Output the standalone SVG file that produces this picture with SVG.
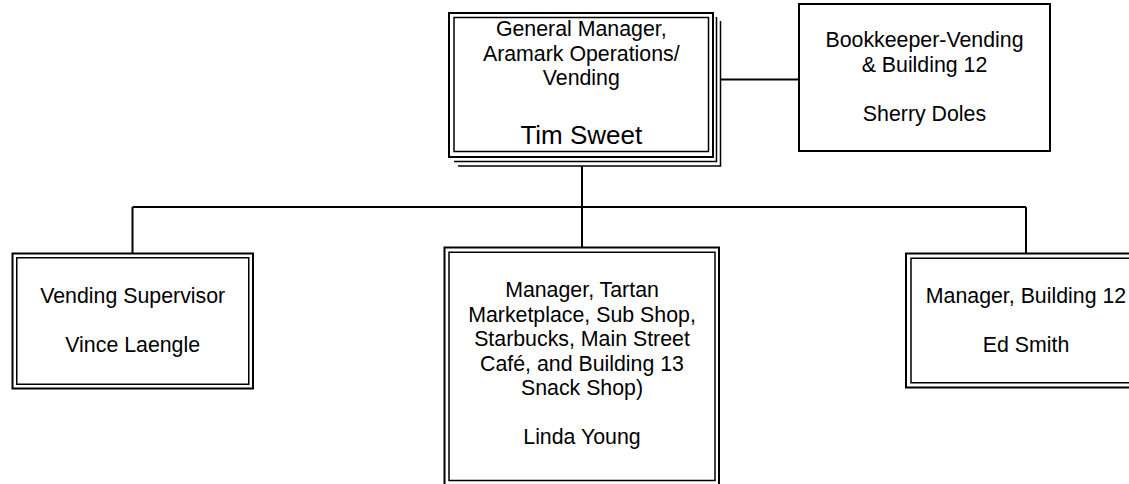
<svg xmlns="http://www.w3.org/2000/svg" width="1129" height="484" viewBox="0 0 1129 484">
<style>
.b{fill:none;stroke:#000;stroke-width:2}
.t{fill:none;stroke:#000;stroke-width:1.5}
.l{fill:none;stroke:#000;stroke-width:2}
text{font-family:"Liberation Sans",Arial,sans-serif;font-size:21.33px;fill:#000;text-anchor:middle}
.big{font-size:26px}
</style>
<rect width="1129" height="484" fill="#fff"/>
<g id="connectors">
<path class="l" d="M582 166V207M132.5 207H1026M132.5 207V253M582 207V247M1026 207V253M721 79.5H799"/>
</g>
<g id="gm">
<path class="t" d="M458 166H720.5V21"/>
<path class="t" d="M454 161.5H716.5V17"/>
<rect class="b" x="449" y="13" width="264" height="144"/>
<rect class="t" x="454" y="17.5" width="254.5" height="134"/>
<text x="581.3" y="36">General Manager,</text>
<text x="581.3" y="60.5">Aramark Operations/</text>
<text x="581.3" y="85">Vending</text>
<text x="581.3" y="144" class="big">Tim Sweet</text>
</g>
<g id="bookkeeper">
<rect class="b" x="799" y="4" width="251" height="147"/>
<text x="924.5" y="47">Bookkeeper-Vending</text>
<text x="924.5" y="71.5">&amp; Building 12</text>
<text x="924.5" y="121">Sherry Doles</text>
</g>
<g id="vending">
<rect class="b" x="12.5" y="253.5" width="240.5" height="135"/>
<rect class="t" x="16.75" y="257.75" width="232" height="126.5"/>
<text x="132.7" y="303">Vending Supervisor</text>
<text x="132.7" y="352">Vince Laengle</text>
</g>
<g id="linda">
<rect class="b" x="444.5" y="247.5" width="274.5" height="238"/>
<rect class="t" x="449" y="252.25" width="266" height="228.25"/>
<text x="582" y="297">Manager, Tartan</text>
<text x="582" y="321.5">Marketplace, Sub Shop,</text>
<text x="582" y="346">Starbucks, Main Street</text>
<text x="582" y="370.5">Café, and Building 13</text>
<text x="582" y="395">Snack Shop)</text>
<text x="582" y="444">Linda Young</text>
</g>
<g id="ed">
<rect class="b" x="906" y="253.5" width="240" height="134"/>
<rect class="t" x="911" y="258.25" width="230" height="124.5"/>
<text x="1026" y="303">Manager, Building 12</text>
<text x="1026" y="352">Ed Smith</text>
</g>
</svg>
